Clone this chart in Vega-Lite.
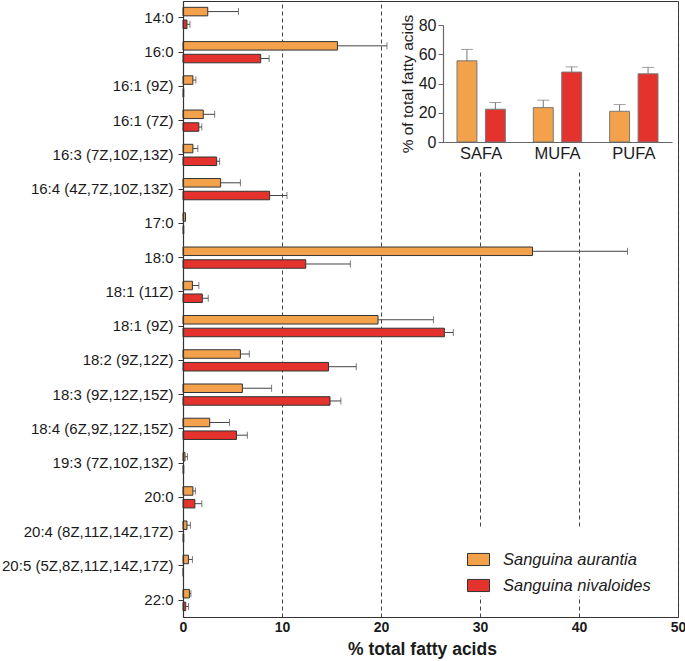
{
  "$schema": "https://vega.github.io/schema/vega-lite/v6.json",
  "width": 495,
  "height": 616,
  "autosize": {"type": "none"},
  "padding": {"left": 183, "top": 1, "right": 7, "bottom": 44},
  "config": {
    "font": "Liberation Sans",
    "view": {"stroke": "#333", "strokeWidth": 1},
    "axis": {"labelFont": "Liberation Sans", "titleFont": "Liberation Sans", "domainColor": "#333", "tickColor": "#333", "labelColor": "#1a1a1a", "titleColor": "#1a1a1a"}
  },
  "datasets": {
    "fa": [
      {"fa": "14:0", "species": "Sanguina aurantia", "value": 2.5, "hi": 5.6},
      {"fa": "14:0", "species": "Sanguina nivaloides", "value": 0.4, "hi": 0.7},
      {"fa": "16:0", "species": "Sanguina aurantia", "value": 15.6, "hi": 20.6},
      {"fa": "16:0", "species": "Sanguina nivaloides", "value": 7.85, "hi": 8.7},
      {"fa": "16:1 (9Z)", "species": "Sanguina aurantia", "value": 1.0, "hi": 1.3},
      {"fa": "16:1 (9Z)", "species": "Sanguina nivaloides", "value": 0.08, "hi": null},
      {"fa": "16:1 (7Z)", "species": "Sanguina aurantia", "value": 2.05, "hi": 3.2},
      {"fa": "16:1 (7Z)", "species": "Sanguina nivaloides", "value": 1.6, "hi": 1.9},
      {"fa": "16:3 (7Z,10Z,13Z)", "species": "Sanguina aurantia", "value": 1.0, "hi": 1.5},
      {"fa": "16:3 (7Z,10Z,13Z)", "species": "Sanguina nivaloides", "value": 3.4, "hi": 3.7},
      {"fa": "16:4 (4Z,7Z,10Z,13Z)", "species": "Sanguina aurantia", "value": 3.8, "hi": 5.8},
      {"fa": "16:4 (4Z,7Z,10Z,13Z)", "species": "Sanguina nivaloides", "value": 8.75, "hi": 10.5},
      {"fa": "17:0", "species": "Sanguina aurantia", "value": 0.25, "hi": null},
      {"fa": "17:0", "species": "Sanguina nivaloides", "value": 0.08, "hi": null},
      {"fa": "18:0", "species": "Sanguina aurantia", "value": 35.3, "hi": 44.9},
      {"fa": "18:0", "species": "Sanguina nivaloides", "value": 12.4, "hi": 16.9},
      {"fa": "18:1 (11Z)", "species": "Sanguina aurantia", "value": 0.95, "hi": 1.6},
      {"fa": "18:1 (11Z)", "species": "Sanguina nivaloides", "value": 1.95, "hi": 2.55},
      {"fa": "18:1 (9Z)", "species": "Sanguina aurantia", "value": 19.7, "hi": 25.3},
      {"fa": "18:1 (9Z)", "species": "Sanguina nivaloides", "value": 26.4, "hi": 27.3},
      {"fa": "18:2 (9Z,12Z)", "species": "Sanguina aurantia", "value": 5.8, "hi": 6.7},
      {"fa": "18:2 (9Z,12Z)", "species": "Sanguina nivaloides", "value": 14.7, "hi": 17.5},
      {"fa": "18:3 (9Z,12Z,15Z)", "species": "Sanguina aurantia", "value": 6.0, "hi": 8.95},
      {"fa": "18:3 (9Z,12Z,15Z)", "species": "Sanguina nivaloides", "value": 14.85, "hi": 15.95},
      {"fa": "18:4 (6Z,9Z,12Z,15Z)", "species": "Sanguina aurantia", "value": 2.7, "hi": 4.7},
      {"fa": "18:4 (6Z,9Z,12Z,15Z)", "species": "Sanguina nivaloides", "value": 5.4, "hi": 6.5},
      {"fa": "19:3 (7Z,10Z,13Z)", "species": "Sanguina aurantia", "value": 0.2, "hi": 0.45},
      {"fa": "19:3 (7Z,10Z,13Z)", "species": "Sanguina nivaloides", "value": 0.08, "hi": null},
      {"fa": "20:0", "species": "Sanguina aurantia", "value": 1.0, "hi": 1.25},
      {"fa": "20:0", "species": "Sanguina nivaloides", "value": 1.2, "hi": 1.9},
      {"fa": "20:4 (8Z,11Z,14Z,17Z)", "species": "Sanguina aurantia", "value": 0.4, "hi": 0.75},
      {"fa": "20:4 (8Z,11Z,14Z,17Z)", "species": "Sanguina nivaloides", "value": 0.08, "hi": null},
      {"fa": "20:5 (5Z,8Z,11Z,14Z,17Z)", "species": "Sanguina aurantia", "value": 0.55, "hi": 0.95},
      {"fa": "20:5 (5Z,8Z,11Z,14Z,17Z)", "species": "Sanguina nivaloides", "value": 0.04, "hi": null},
      {"fa": "22:0", "species": "Sanguina aurantia", "value": 0.65, "hi": 0.8},
      {"fa": "22:0", "species": "Sanguina nivaloides", "value": 0.27, "hi": 0.55}
    ],
    "groups": [
      {"group": "SAFA", "species": "Sanguina aurantia", "value": 55.5, "hi": 63.3},
      {"group": "SAFA", "species": "Sanguina nivaloides", "value": 22.4, "hi": 27.0},
      {"group": "MUFA", "species": "Sanguina aurantia", "value": 23.5, "hi": 28.6},
      {"group": "MUFA", "species": "Sanguina nivaloides", "value": 47.8, "hi": 51.4},
      {"group": "PUFA", "species": "Sanguina aurantia", "value": 21.0, "hi": 25.6},
      {"group": "PUFA", "species": "Sanguina nivaloides", "value": 46.6, "hi": 51.0}
    ],
    "panel": [{"x1": 21, "x2": 49.85, "y1": 95.5, "y2": -19}]
  },
  "layer": [
    {
      "data": {"name": "fa"},
      "encoding": {
        "y": {
          "field": "fa", "type": "nominal",
          "sort": ["14:0", "16:0", "16:1 (9Z)", "16:1 (7Z)", "16:3 (7Z,10Z,13Z)", "16:4 (4Z,7Z,10Z,13Z)", "17:0", "18:0", "18:1 (11Z)", "18:1 (9Z)", "18:2 (9Z,12Z)", "18:3 (9Z,12Z,15Z)", "18:4 (6Z,9Z,12Z,15Z)", "19:3 (7Z,10Z,13Z)", "20:0", "20:4 (8Z,11Z,14Z,17Z)", "20:5 (5Z,8Z,11Z,14Z,17Z)", "22:0"],
          "scale": {"paddingInner": 0.38, "paddingOuter": 0.185},
          "axis": {"title": null, "orient": "left", "labelFontSize": 15, "tickSize": 5, "labelPadding": 5, "domainWidth": 1.2, "labelLimit": 300, "zindex": 1}
        },
        "yOffset": {
          "field": "species", "type": "nominal",
          "sort": ["Sanguina aurantia", "Sanguina nivaloides"],
          "scale": {"paddingInner": 0.33, "paddingOuter": 0}
        }
      },
      "layer": [
        {
          "mark": {"type": "bar", "stroke": "#333", "strokeWidth": 1},
          "encoding": {
            "x": {
              "field": "value", "type": "quantitative",
              "scale": {"domain": [0, 50], "nice": false},
              "axis": {"title": "% total fatty acids", "orient": "bottom", "values": [0, 10, 20, 30, 40, 50], "format": "d", "labelFlush": false, "labelFontSize": 14, "labelFontWeight": "bold", "ticks": false, "labelPadding": 3, "grid": true, "gridDash": [4, 3], "gridColor": "#444", "gridWidth": 1, "domainWidth": 1.2, "titleFontSize": 17.5, "titleFontWeight": "bold", "titleX": 239, "titleY": 37, "titleBaseline": "alphabetic", "titleAlign": "center"}
            },
            "fill": {
              "field": "species", "type": "nominal",
              "scale": {"domain": ["Sanguina aurantia", "Sanguina nivaloides"], "range": ["#F3A24B", "#E4322D"]},
              "legend": {"orient": "none", "legendX": 282, "legendY": 527, "title": " ", "titleFontSize": 14, "titlePadding": 4, "padding": 2, "fillColor": "white", "symbolType": "M-1,-0.55H1V0.55H-1Z", "symbolSize": 484, "symbolStrokeColor": "#333", "symbolStrokeWidth": 1, "labelFont": "Liberation Sans", "labelFontStyle": "italic", "labelFontSize": 16.5, "labelColor": "#1a1a1a", "labelOffset": 13, "rowPadding": 6, "labelLimit": 300}
            }
          }
        },
        {
          "mark": {"type": "rule", "color": "#444", "strokeWidth": 1},
          "encoding": {"x": {"field": "value", "type": "quantitative"}, "x2": {"field": "hi"}}
        },
        {
          "mark": {"type": "tick", "orient": "vertical", "size": 7, "thickness": 1, "color": "#444"},
          "encoding": {"x": {"field": "hi", "type": "quantitative"}}
        }
      ]
    },
    {
      "data": {"name": "panel"},
      "mark": {"type": "rect", "fill": "white", "strokeWidth": 0},
      "encoding": {
        "x": {"field": "x1", "type": "quantitative", "scale": {"domain": [0, 50], "nice": false}, "axis": null},
        "x2": {"field": "x2"},
        "y": {"field": "y1", "type": "quantitative", "scale": {"domain": [0, 80], "range": [141, 24], "nice": false}, "axis": null},
        "y2": {"field": "y2"}
      }
    },
    {
      "data": {"name": "groups"},
      "encoding": {
        "x": {
          "field": "group", "type": "nominal", "sort": ["SAFA", "MUFA", "PUFA"],
          "scale": {"range": [260, 489], "paddingInner": 0.2, "paddingOuter": 0.1},
          "axis": {"orient": "bottom", "offset": -475, "title": null, "ticks": false, "labelAngle": 0, "labelFontSize": 16.5, "labelPadding": 3, "domainColor": "#666", "domainWidth": 1.2, "grid": false, "zindex": 2}
        },
        "xOffset": {
          "field": "species", "type": "nominal", "sort": ["Sanguina aurantia", "Sanguina nivaloides"],
          "scale": {"paddingInner": 0.3, "paddingOuter": 0.224}
        }
      },
      "layer": [
        {
          "mark": {"type": "bar", "stroke": "#777", "strokeWidth": 1},
          "encoding": {
            "y": {
              "field": "value", "type": "quantitative",
              "scale": {"domain": [0, 80], "range": [141, 24], "nice": false},
              "axis": {"orient": "left", "offset": -260, "values": [0, 20, 40, 60, 80], "title": "% of total fatty acids", "titleFontSize": 15.5, "titleFontWeight": "normal", "titlePadding": 3, "labelFontSize": 16, "tickSize": 5, "labelPadding": 2, "grid": false, "domainColor": "#666", "tickColor": "#666", "domainWidth": 1.2, "zindex": 2}
            },
            "fill": {"field": "species", "type": "nominal", "legend": null}
          }
        },
        {
          "mark": {"type": "rule", "color": "#777", "strokeWidth": 1},
          "encoding": {"y": {"field": "value", "type": "quantitative"}, "y2": {"field": "hi"}}
        },
        {
          "mark": {"type": "tick", "orient": "horizontal", "size": 12, "thickness": 1, "color": "#777"},
          "encoding": {"y": {"field": "hi", "type": "quantitative"}}
        }
      ]
    }
  ],
  "resolve": {
    "scale": {"x": "independent", "y": "independent", "xOffset": "independent", "yOffset": "independent"},
    "axis": {"x": "independent", "y": "independent"}
  }
}
